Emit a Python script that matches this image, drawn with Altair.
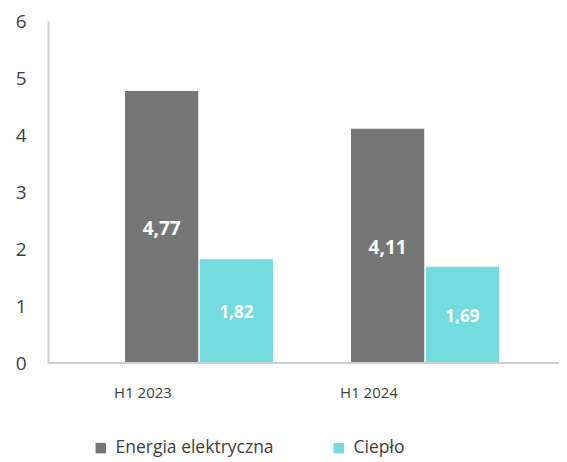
import altair as alt
import pandas as pd

periods = ["H1 2023", "H1 2024"]
series = ["Energia elektryczna", "Ciepło"]
energia = [4.77, 4.11]
cieplo = [1.82, 1.69]
colors = ["#767676", "#74DBDF"]

rows = []
for i, p in enumerate(periods):
    rows.append({"period": p, "series": series[0], "value": energia[i]})
    rows.append({"period": p, "series": series[1], "value": cieplo[i]})
df = pd.DataFrame(rows)
df["label"] = df["value"].map(lambda v: f"{v:.2f}".replace(".", ","))
df["half"] = df["value"] / 2
pdf = pd.DataFrame({"period": periods})

FONT = "Open Sans"
TXT = "#404040"

xscale = alt.Scale(domain=periods, range=[77, 451], paddingInner=0.345, paddingOuter=0)
x = alt.X("period:N", sort=periods, title=None, scale=xscale, axis=None)
xo = alt.XOffset("series:N", sort=series, scale=alt.Scale(paddingInner=0.02))
yscale = alt.Scale(domain=[0, 6], nice=False)

bars = alt.Chart(df).mark_bar().encode(
    x=x, xOffset=xo,
    y=alt.Y("value:Q", title=None, scale=yscale,
            axis=alt.Axis(values=[0, 1, 2, 3, 4, 5, 6], format="d", grid=False, ticks=False,
                          labelFontSize=19, labelColor=TXT, labelFont=FONT,
                          labelPadding=22, domainColor="#d0d0d0", domainWidth=2)),
    color=alt.Color("series:N", sort=series,
                    scale=alt.Scale(domain=series, range=colors),
                    legend=alt.Legend(title=None, orient="none", direction="horizontal",
                                      legendX=44, legendY=418, symbolType="square",
                                      symbolSize=110, labelFontSize=17.5, labelFont=FONT,
                                      labelColor=TXT, columnPadding=56, symbolStrokeWidth=0,
                                      labelOffset=6)),
)

baseline = alt.Chart(pdf).mark_rule(color="#d0d0d0", strokeWidth=2).encode(
    x=alt.value(0), x2=alt.value(511), y=alt.value(342),
)

lab_e = alt.Chart(df).transform_filter(alt.datum.series == series[0]).mark_text(
    color="white", fontWeight="bold", font=FONT, fontSize=19, dy=2).encode(
    x=x, xOffset=xo, y=alt.Y("half:Q", scale=yscale), text="label:N")
lab_c = alt.Chart(df).transform_filter(alt.datum.series == series[1]).mark_text(
    color="white", fontWeight="bold", font=FONT, fontSize=17, dy=2).encode(
    x=x, xOffset=xo, y=alt.Y("half:Q", scale=yscale), text="label:N")

xlabels = alt.Chart(pdf).mark_text(font=FONT, fontSize=15, color=TXT, dx=-56).encode(
    x=alt.X("period:N", sort=periods, scale=xscale, title=None, axis=None),
    y=alt.value(372),
    text="period:N",
)

chart = (bars + baseline + lab_e + lab_c + xlabels).properties(
    width=511, height=342,
    autosize=alt.AutoSizeParams(type="none"),
    padding={"left": 40, "top": 13, "right": 0, "bottom": 98},
).configure_view(stroke=None)

chart.save("out.html", embed_options={"renderer": "svg", "actions": False})
